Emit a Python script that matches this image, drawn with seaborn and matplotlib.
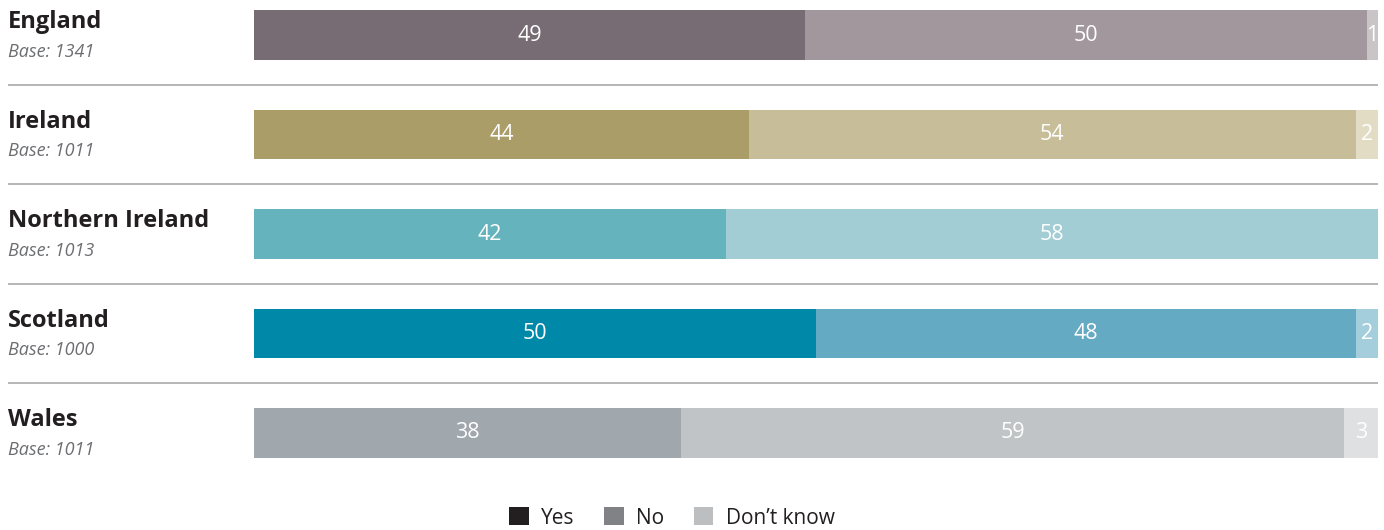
import matplotlib
matplotlib.use('Agg')
import matplotlib.pyplot as plt
from matplotlib.patches import Patch
import pandas as pd
import seaborn as sns

countries = ['England', 'Ireland', 'Northern Ireland', 'Scotland', 'Wales']
bases = [1341, 1011, 1013, 1000, 1011]
yes = [49, 44, 42, 50, 38]
no = [50, 54, 58, 48, 59]
dont_know = [1, 2, 0, 2, 3]

yes_colors = ['#776b74', '#ab9d68', '#65b3bd', '#0088a8', '#a0a7ad']
no_colors = ['#a2979c', '#c7bd98', '#a2cdd4', '#65aac3', '#c0c4c6']
dk_colors = ['#c9c5c7', '#e2dcc4', '#cfe5e9', '#a5cedc', '#dfe0e1']
legend_colors = ['#231f20', '#808285', '#bcbec0']

sns.set_theme(style='white')
plt.rcParams['font.family'] = ['Open Sans', 'DejaVu Sans']

df = pd.DataFrame({'country': countries, 'yes': yes, 'no': no, 'dk': dont_know})
df['yes_no'] = df['yes'] + df['no']
df['total'] = df['yes_no'] + df['dk']

fig = plt.figure(figsize=(13.84, 5.3), dpi=100)
ax = fig.add_axes([254 / 1384, 0, 1124 / 1384, 1])

# stacked bars: draw cumulative totals back to front
for col, colors in [('total', dk_colors), ('yes_no', no_colors), ('yes', yes_colors)]:
    sns.barplot(data=df, y='country', x=col, hue='country', palette=colors,
                width=0.5, legend=False, ax=ax, saturation=1, orient='h',
                linewidth=0, edgecolor='none')

ax.set_xlim(0, 100)
ax.set_ylim(4.975, -0.352)
ax.axis('off')

x_left = (8 - 254) / 1124 * 100
for i, row in df.iterrows():
    ax.text(row['yes'] / 2, i, str(row['yes']), color='white', ha='center', va='center', fontsize=15.5)
    ax.text(row['yes'] + row['no'] / 2, i, str(row['no']), color='white', ha='center', va='center', fontsize=15.5)
    if row['dk'] > 0:
        ax.text(row['yes_no'] + row['dk'] / 2, i, str(row['dk']), color='white', ha='center', va='center', fontsize=15.5)
    ax.text(x_left, i - 0.13, row['country'], color='#231f20', ha='left', va='center',
            fontsize=17, fontweight='bold', clip_on=False)
    ax.text(x_left, i + 0.17, f'Base: {bases[i]}', color='#6d6e71', ha='left', va='center',
            fontsize=13, style='italic', clip_on=False)
    if i < len(df) - 1:
        ax.hlines(i + 0.5, x_left, 100, color='#a7a9ac', linewidth=1.2, clip_on=False)

handles = [Patch(facecolor=c, edgecolor='none') for c in legend_colors]
fig.legend(handles, ['Yes', 'No', 'Don\u2019t know'], loc='center', ncol=3,
           bbox_to_anchor=(672 / 1384, 1 - 518 / 530), frameon=False, fontsize=15,
           handlelength=0.95, handleheight=0.95, handletextpad=0.6, columnspacing=1.4,
           labelcolor='#231f20')

fig.savefig('out.png', dpi=100)
